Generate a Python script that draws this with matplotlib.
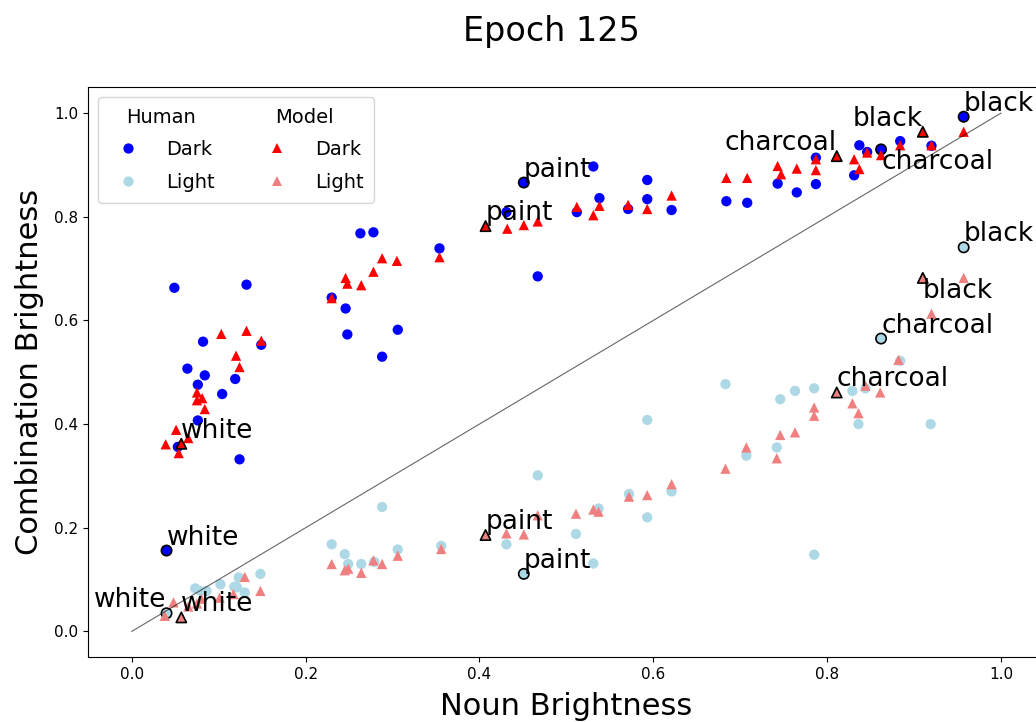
import matplotlib

matplotlib.use("Agg")
import matplotlib.pyplot as plt
from matplotlib.lines import Line2D

# noun brightness vs. brightness of the noun combination, human ratings
human_dark_x = [0.049, 0.132, 0.082, 0.149, 0.064, 0.084, 0.076, 0.119, 0.104, 0.076, 0.053, 0.124,
                0.230, 0.246, 0.248, 0.263, 0.278, 0.288, 0.306, 0.354, 0.431, 0.467, 0.512, 0.531,
                0.538, 0.571, 0.593, 0.593, 0.621,
                0.684, 0.708, 0.743, 0.765, 0.787, 0.787, 0.831, 0.837, 0.846, 0.884, 0.920]
human_dark_y = [0.663, 0.669, 0.559, 0.553, 0.507, 0.494, 0.476, 0.487, 0.458, 0.407, 0.356, 0.332,
                0.644, 0.623, 0.573, 0.768, 0.770, 0.530, 0.582, 0.739, 0.809, 0.685, 0.809, 0.897,
                0.836, 0.815, 0.871, 0.834, 0.813,
                0.830, 0.827, 0.864, 0.847, 0.863, 0.914, 0.880, 0.938, 0.925, 0.946, 0.937]

human_light_x = [0.073, 0.079, 0.086, 0.102, 0.118, 0.121, 0.123, 0.130, 0.148,
                 0.230, 0.245, 0.249, 0.264, 0.279, 0.288, 0.306, 0.356, 0.431, 0.467, 0.511,
                 0.531, 0.537, 0.572, 0.593, 0.593, 0.621,
                 0.683, 0.707, 0.742, 0.746, 0.763, 0.785, 0.785, 0.829, 0.836, 0.844, 0.884, 0.919]
human_light_y = [0.083, 0.078, 0.078, 0.091, 0.086, 0.085, 0.104, 0.075, 0.111,
                 0.168, 0.149, 0.130, 0.130, 0.134, 0.240, 0.158, 0.165, 0.168, 0.301, 0.188,
                 0.131, 0.237, 0.265, 0.408, 0.220, 0.270,
                 0.477, 0.339, 0.355, 0.448, 0.464, 0.469, 0.148, 0.464, 0.400, 0.469, 0.522, 0.400]

# model predictions
model_dark_x = [0.103, 0.132, 0.149, 0.120, 0.124, 0.075, 0.081, 0.075, 0.084, 0.051, 0.065, 0.039, 0.054,
                0.230, 0.246, 0.248, 0.264, 0.278, 0.288, 0.305, 0.354, 0.432, 0.451, 0.467, 0.512,
                0.531, 0.538, 0.571, 0.593, 0.621,
                0.684, 0.708, 0.743, 0.747, 0.765, 0.787, 0.787, 0.831, 0.837, 0.846, 0.862, 0.884,
                0.920, 0.957]
model_dark_y = [0.574, 0.580, 0.561, 0.532, 0.510, 0.461, 0.450, 0.446, 0.429, 0.389, 0.373, 0.361, 0.344,
                0.643, 0.682, 0.671, 0.668, 0.694, 0.720, 0.715, 0.722, 0.777, 0.784, 0.791, 0.819,
                0.803, 0.821, 0.823, 0.815, 0.841,
                0.875, 0.875, 0.898, 0.882, 0.893, 0.911, 0.890, 0.911, 0.892, 0.924, 0.919, 0.938,
                0.938, 0.964]

model_light_x = [0.038, 0.048, 0.065, 0.075, 0.080, 0.101, 0.117, 0.130, 0.148,
                 0.230, 0.245, 0.249, 0.264, 0.278, 0.288, 0.306, 0.356, 0.431, 0.451, 0.467,
                 0.511, 0.531, 0.537, 0.572, 0.593, 0.621,
                 0.683, 0.707, 0.742, 0.746, 0.763, 0.785, 0.785, 0.829, 0.836, 0.844, 0.861,
                 0.882, 0.920, 0.957]
model_light_y = [0.030, 0.056, 0.048, 0.054, 0.063, 0.065, 0.072, 0.105, 0.078,
                 0.130, 0.118, 0.121, 0.113, 0.137, 0.130, 0.146, 0.159, 0.189, 0.187, 0.224,
                 0.227, 0.235, 0.231, 0.260, 0.263, 0.284,
                 0.314, 0.355, 0.334, 0.379, 0.384, 0.432, 0.416, 0.440, 0.421, 0.474, 0.461,
                 0.524, 0.613, 0.682]

# highlighted nouns
hl_words = ["white", "paint", "charcoal", "black"]
hl_human_x = [0.040, 0.451, 0.862, 0.957]
hl_human_dark = [0.156, 0.866, 0.930, 0.993]
hl_human_light = [0.035, 0.111, 0.565, 0.741]
hl_model_x = [0.057, 0.407, 0.811, 0.910]
hl_model_dark = [0.362, 0.782, 0.917, 0.964]
hl_model_light = [0.027, 0.186, 0.461, 0.682]

epoch = 125

# (ha, va) of each word label per series
label_align = {
    "human_dark": [("left", "bottom"), ("left", "bottom"), ("left", "top"), ("left", "bottom")],
    "human_light": [("right", "bottom"), ("left", "bottom"), ("left", "bottom"), ("left", "bottom")],
    "model_dark": [("left", "bottom"), ("left", "bottom"), ("right", "bottom"), ("right", "bottom")],
    "model_light": [("left", "bottom"), ("left", "bottom"), ("left", "bottom"), ("left", "top")],
}

W, H = 1036, 722
fig = plt.figure(figsize=(W / 100, H / 100), dpi=100)
# axes run slightly past the right edge of the canvas
ax = fig.add_axes([88.3 / W, 64.7 / H, 956.2 / W, 570.1 / H])

MS = 55


def draw_series(x, y, hx, hy, color, marker):
    xs = list(x) + list(hx)
    ys = list(y) + list(hy)
    edges = ["none"] * len(x) + ["black"] * len(hx)
    widths = [0.0] * len(x) + [1.2] * len(hx)
    ax.scatter(xs, ys, s=MS, c=color, marker=marker, edgecolors=edges, linewidths=widths)


draw_series(human_dark_x, human_dark_y, hl_human_x, hl_human_dark, "blue", "o")
draw_series(human_light_x, human_light_y, hl_human_x, hl_human_light, "lightblue", "o")
draw_series(model_dark_x, model_dark_y, hl_model_x, hl_model_dark, "red", "^")
draw_series(model_light_x, model_light_y, hl_model_x, hl_model_light, "lightcoral", "^")

ax.plot([0, 1], [0, 1], color="black", lw=0.8, alpha=0.6)

for key, xs, ys in (("human_dark", hl_human_x, hl_human_dark),
                    ("human_light", hl_human_x, hl_human_light),
                    ("model_dark", hl_model_x, hl_model_dark),
                    ("model_light", hl_model_x, hl_model_light)):
    for word, x, y, (ha, va) in zip(hl_words, xs, ys, label_align[key]):
        ax.text(x, y, word, fontsize=19, ha=ha, va=va)

ax.set_xlim(-0.05, 1.05)
ax.set_ylim(-0.05, 1.05)
ax.tick_params(labelsize=11)
ax.set_xlabel("Noun Brightness", fontsize=22, labelpad=7.5)
ax.set_ylabel("Combination Brightness", fontsize=22, labelpad=7.5)
fig.text(551 / W, 1 - 40.7 / H, f"Epoch {epoch}", fontsize=24, ha="center", va="baseline")

# legend with a header row per column; headers are written in after layout
blank = Line2D([], [], linestyle="none")
proxy = dict(linestyle="none", markersize=7.4, markeredgewidth=0)
handles = [blank,
           Line2D([], [], marker="o", color="blue", **proxy),
           Line2D([], [], marker="o", color="lightblue", **proxy),
           blank,
           Line2D([], [], marker="^", color="red", **proxy),
           Line2D([], [], marker="^", color="lightcoral", **proxy)]
labels = [" ", "Dark", "Light", " ", "Dark", "Light"]
leg = ax.legend(handles, labels, ncol=2, loc="upper left", fontsize=14,
                labelspacing=0.7, borderpad=0.55, columnspacing=2.2, handletextpad=0.95)

fig.canvas.draw()
renderer = fig.canvas.get_renderer()
texts = leg.get_texts()
for i, name in ((0, "Human"), (3, "Model")):
    dark = texts[i + 1].get_window_extent(renderer)
    light = texts[i + 2].get_window_extent(renderer)
    step = dark.y0 - light.y0
    fig.text((dark.x0 - 40) / W, (dark.y0 + step) / H, name, fontsize=14, va="bottom")

fig.savefig("out.png", dpi=100)
